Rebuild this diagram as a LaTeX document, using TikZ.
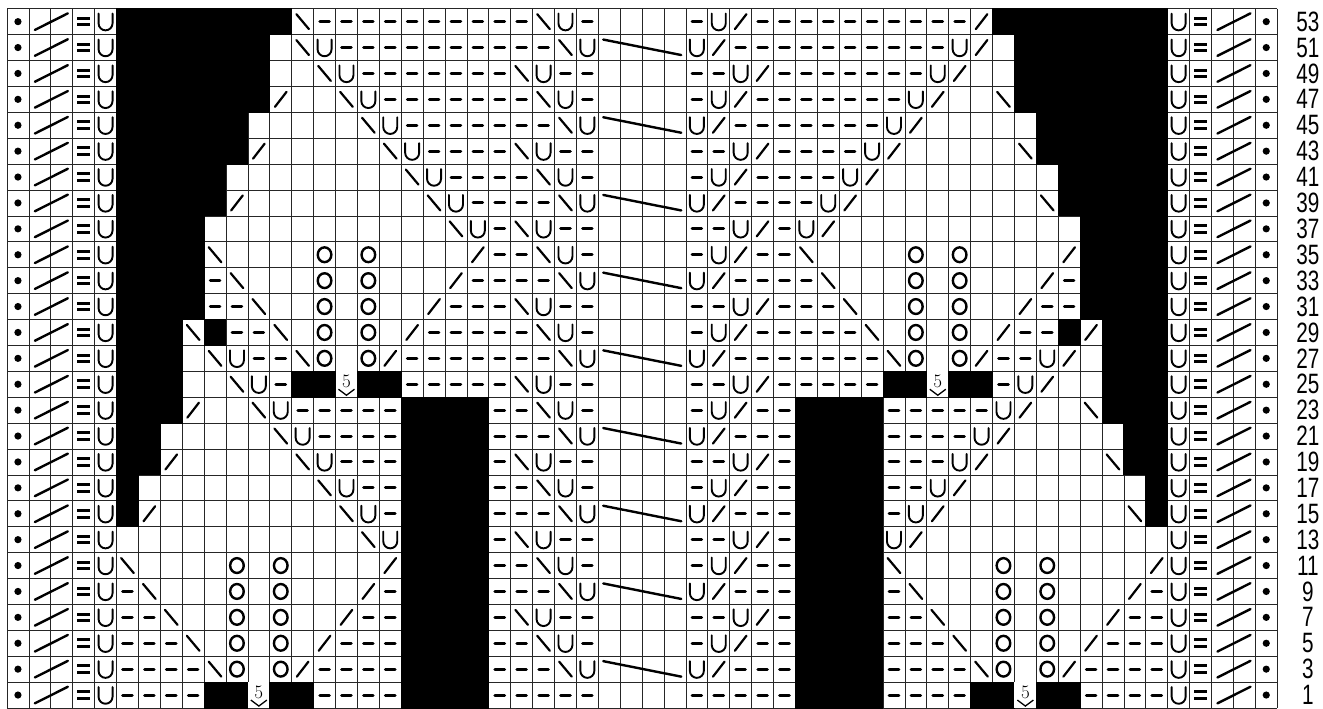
\documentclass[tikz,border=0pt]{standalone}
\usepackage{fontspec}
\setsansfont{Liberation Sans}
\newcount\cellcol
% --- Simbolos de cada celda ---
\tikzset{
  gridline/.style={line width=0.8pt, draw=black!85},
  stitch/.style={line width=1.9pt, line cap=round},
  bar/.style={line width=3pt, line cap=round},
  rowlabel/.style={font=\sffamily\fontsize{28}{28}\selectfont, xscale=.74, transform shape, inner sep=0pt},
}
\newcommand{\cellB}{\fill[black] (-.52,-.52) rectangle (.52,.52);}
\newcommand{\cellp}{\draw[bar] (-4.8pt,0pt) -- (4.8pt,0pt);}
\newcommand{\cellU}{\draw[stitch] (-7pt,8pt) -- (-7pt,-1.7pt) arc[start angle=180, end angle=360, radius=7pt] -- (7pt,8pt);}
\newcommand{\celll}{\draw[stitch, line width=2.2pt] (-5.8pt,-7.5pt) -- (5.8pt,7.5pt);}
\newcommand{\cellr}{\draw[stitch, line width=2.2pt] (-6.3pt,7.5pt) -- (6.3pt,-7.5pt);}
\newcommand{\cellO}{\draw[stitch, line width=2.4pt] (0pt,0pt) ellipse[x radius=6.8pt, y radius=7.4pt];}
\newcommand{\cellT}{\draw[stitch, line width=2.4pt] (-6pt,8pt) -- (72pt,-7.5pt);}
\newcommand{\cellF}{%
  \fill[white] (-.5,-.5) rectangle (.5,.5);
  \node[inner sep=0pt, font=\fontsize{19}{19}\selectfont] (five\the\cellcol) at (0pt,2.7pt) {5};
  \draw[line width=1.3pt] (-8pt,-5pt) -- (0pt,-11pt) -- (8pt,-5pt);}
\newcommand{\cellD}{\fill (0pt,0pt) circle[radius=3.6pt];}
\newcommand{\cellS}{\draw[stitch, line width=2.4pt] (-5pt,-8.3pt) -- (28pt,8.3pt);}
\newcommand{\cellE}{%
  \draw[bar, line cap=butt] (-6.5pt,3.3pt) -- (6.5pt,3.3pt);
  \draw[bar, line cap=butt] (-6.5pt,-3.3pt) -- (6.5pt,-3.3pt);}
\newcommand{\drawcell}[1]{%
  \if#1e\else
    \begin{scope}[shift={(\the\cellcol+.5,\r+.5)}]
      \csname cell#1\endcsname
    \end{scope}
  \fi}
\newcommand{\scanrow}[1]{%
  \ifx#1;\else
    \drawcell{#1}\global\advance\cellcol by 1
    \expandafter\scanrow
  \fi}
\begin{document}
\begin{tikzpicture}[x=21.9pt, y=-25.9pt]
  \useasboundingbox (-7pt,8.7pt) rectangle (1316pt,-700.3pt);

  % --- Cuadricula ---
  \foreach \c in {0,...,58} {\draw[gridline] (\c,0) -- (\c,27);}
  \foreach \r in {0,...,27} {\draw[gridline] (0,\r) -- (58,\r);}

  % --- Filas (columnas 5 a 52) ---
  \foreach \rowname/\cells [count=\r from 0] in {
    53/BBBBBBBBrpppppppppprUpeeeepUlpppppppppplBBBBBBBB,
    51/BBBBBBBerUpppppppppprUTeeeUlppppppppppUleBBBBBBB,
    49/BBBBBBBeerUppppppprUppeeeeppUlpppppppUleeBBBBBBB,
    47/BBBBBBBleerUppppppprUpeeeepUlpppppppUleerBBBBBBB,
    45/BBBBBBeeeeerUppppppprUTeeeUlpppppppUleeeeeBBBBBB,
    43/BBBBBBleeeeerUpppprUppeeeeppUlppppUleeeeerBBBBBB,
    41/BBBBBeeeeeeeerUpppprUpeeeepUlppppUleeeeeeeeBBBBB,
    39/BBBBBleeeeeeeerUpppprUTeeeUlppppUleeeeeeeerBBBBB,
    37/BBBBeeeeeeeeeeerUprUppeeeeppUlpUleeeeeeeeeeeBBBB,
    35/BBBBreeeeOeOeeeelpprUpeeeepUlppreeeeOeOeeeelBBBB,
    33/BBBBpreeeOeOeeelpppprUTeeeUlppppreeeOeOeeelpBBBB,
    31/BBBBppreeOeOeelppprUppeeeeppUlpppreeOeOeelppBBBB,
    29/BBBrBppreOeOelppppprUpeeeepUlpppppreOeOelppBlBBB,
    27/BBBerUpprOeOlppppppprUTeeeUlppppppprOeOlppUleBBB,
    25/BBBeerUpBBFBBppppprUppeeeeppUlpppppBBFBBpUleeBBB,
    23/BBBleerUpppppBBBBpprUpeeeepUlppBBBBpppppUleerBBB,
    21/BBeeeeerUppppBBBBppprUTeeeUlpppBBBBppppUleeeeeBB,
    19/BBleeeeerUpppBBBBprUppeeeeppUlpBBBBpppUleeeeerBB,
    17/BeeeeeeeerUppBBBBpprUpeeeepUlppBBBBppUleeeeeeeeB,
    15/BleeeeeeeerUpBBBBppprUTeeeUlpppBBBBpUleeeeeeeerB,
    13/eeeeeeeeeeerUBBBBprUppeeeeppUlpBBBBUleeeeeeeeeee,
    11/reeeeOeOeeeelBBBBpprUpeeeepUlppBBBBreeeeOeOeeeel,
    9/preeeOeOeeelpBBBBppprUTeeeUlpppBBBBpreeeOeOeeelp,
    7/ppreeOeOeelppBBBBprUppeeeeppUlpBBBBppreeOeOeelpp,
    5/pppreOeOelpppBBBBpprUpeeeepUlppBBBBpppreOeOelppp,
    3/pppprOeOlppppBBBBppprUTeeeUlpppBBBBpppprOeOlpppp,
    1/ppppBBFBBppppBBBBpppppeeeepppppBBBBppppBBFBBpppp} {
    % Orillos y cuerpo de la fila
    \global\cellcol=0
    \scanrow DSeEU;
    \expandafter\scanrow\cells;
    \scanrow UESeD;
    % Numero de la fila
    \node[rowlabel] (row\rowname) at (59.4,\r+.5) {\rowname};
  }
\end{tikzpicture}
\end{document}
